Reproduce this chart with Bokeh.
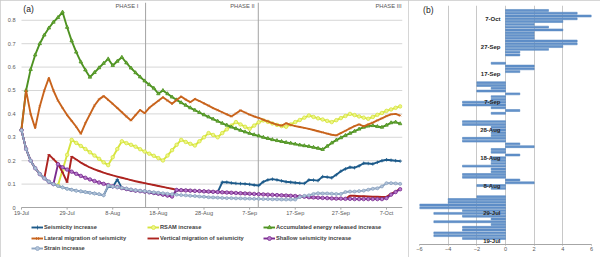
import numpy as np
from bokeh.plotting import figure
from bokeh.models import FixedTicker, Legend, LegendItem, Label
from bokeh.layouts import row
from bokeh.embed import file_html
from bokeh.resources import INLINE

FONT = "Liberation Sans"

# ---------------- data: panel (a) ----------------
days = list(range(84))  # days since 19-Jul
date_tick_days = [0, 10, 20, 30, 40, 50, 60, 70, 80]
date_tick_labels = ["19-Jul", "29-Jul", "8-Aug", "18-Aug", "28-Aug",
                    "7-Sep", "17-Sep", "27-Sep", "7-Oct"]
y_ticks = [0, 0.1, 0.2, 0.3, 0.4, 0.5, 0.6, 0.7, 0.8]
y_tick_labels = ["0", "0.1", "0.2", "0.3", "0.4", "0.5", "0.6", "0.7", "0.8"]
phase_bounds = [27.2, 51.9]
phase_names = ["PHASE I", "PHASE II", "PHASE III"]

seismicity = [0.33, 0.25, 0.2, 0.168, 0.143, 0.125, 0.11, 0.1, 0.092, 0.086,
              0.08, 0.076, 0.072, 0.069, 0.066, 0.063, 0.06, 0.057, 0.052, 0.09,
              0.088, 0.12, 0.083, 0.079, 0.075, 0.072, 0.07, 0.068, 0.065, 0.062,
              0.059, 0.055, 0.051, 0.047, 0.075, 0.074, 0.073, 0.072, 0.071, 0.07,
              0.069, 0.068, 0.067, 0.066, 0.108, 0.108, 0.105, 0.103, 0.102, 0.101,
              0.099, 0.096, 0.094, 0.11, 0.118, 0.121, 0.118, 0.114, 0.11, 0.108,
              0.106, 0.104, 0.103, 0.118, 0.117, 0.115, 0.132, 0.13, 0.127, 0.14,
              0.155, 0.165, 0.172, 0.17, 0.178, 0.189, 0.188, 0.186, 0.193, 0.2,
              0.204, 0.202, 0.2, 0.198]
rsam = [None, None, None, None, None, None, None, None, 0.095, 0.16,
        0.225, 0.289, 0.276, 0.263, 0.25, 0.236, 0.222, 0.208, 0.193, 0.181,
        0.215, 0.25, 0.283, 0.275, 0.268, 0.26, 0.249, 0.239, 0.23, 0.221,
        0.211, 0.201, 0.222, 0.245, 0.268, 0.289, 0.28, 0.272, 0.265, 0.283,
        0.3, 0.318, 0.31, 0.3, 0.318, 0.334, 0.35, 0.365, 0.355, 0.345,
        0.336, 0.35, 0.364, 0.372, 0.366, 0.359, 0.353, 0.348, 0.345, 0.355,
        0.365, 0.374, 0.384, 0.393, 0.387, 0.381, 0.376, 0.37, 0.365, 0.373,
        0.382, 0.391, 0.4, 0.395, 0.389, 0.384, 0.379, 0.387, 0.396, 0.404,
        0.413, 0.419, 0.426, 0.432]
energy = [0.335, 0.5, 0.59, 0.652, 0.7, 0.737, 0.767, 0.792, 0.812, 0.835,
          0.77, 0.712, 0.664, 0.622, 0.588, 0.557, 0.577, 0.597, 0.616, 0.635,
          0.607, 0.625, 0.642, 0.618, 0.596, 0.576, 0.558, 0.541, 0.525, 0.51,
          0.486, 0.5, 0.486, 0.472, 0.46, 0.448, 0.437, 0.426, 0.416, 0.406,
          0.396, 0.387, 0.378, 0.369, 0.36, 0.352, 0.344, 0.337, 0.33, 0.323,
          0.317, 0.311, 0.306, 0.3, 0.295, 0.29, 0.286, 0.282, 0.278, 0.275,
          0.271, 0.267, 0.264, 0.261, 0.257, 0.253, 0.248, 0.262, 0.276, 0.288,
          0.298, 0.308, 0.317, 0.326, 0.335, 0.343, 0.348, 0.35, 0.346, 0.343,
          0.352, 0.362, 0.365, 0.358]
lateral = [0.335, 0.5, 0.4, 0.339, 0.432, 0.5, 0.554, 0.5, 0.457, 0.425,
           0.395, 0.37, 0.345, 0.315, 0.36, 0.398, 0.436, 0.462, 0.476, 0.46,
           0.443, 0.425, 0.407, 0.389, 0.372, 0.395, 0.417, 0.403, 0.426, 0.441,
           0.456, 0.471, 0.457, 0.443, 0.459, 0.474, 0.461, 0.45, 0.464, 0.455,
           0.445, 0.435, 0.425, 0.416, 0.407, 0.398, 0.389, 0.402, 0.415, 0.406,
           0.397, 0.389, 0.383, 0.375, 0.368, 0.361, 0.354, 0.35, 0.36, 0.353,
           0.348, 0.344, 0.34, 0.336, 0.331, 0.326, 0.321, 0.316, 0.311, 0.308,
           0.318, 0.328, 0.338, 0.348, 0.355, 0.347, 0.355, 0.363, 0.372, 0.381,
           0.39, 0.398, 0.4, 0.393]
vertical = [0.33, 0.25, 0.2, 0.168, 0.143, 0.125, 0.226, 0.207, 0.187, 0.15,
            0.108, 0.218, 0.205, 0.192, 0.181, 0.171, 0.163, 0.156, 0.149, 0.143,
            0.137, 0.132, 0.127, 0.122, 0.117, 0.112, 0.108, 0.104, 0.1, 0.096,
            0.092, 0.088, 0.084, 0.08, 0.075, 0.074, 0.073, 0.072, 0.071, 0.07,
            0.069, 0.068, 0.067, 0.066, 0.065, 0.064, 0.063, 0.062, 0.061, 0.06,
            0.059, 0.058, 0.057, 0.056, 0.055, 0.054, 0.053, 0.052, 0.051, 0.05,
            0.049, 0.047, 0.046, 0.044, 0.043, 0.042, 0.041, 0.04, 0.039, 0.038,
            0.038, 0.037, 0.05, 0.05, 0.048, 0.048, 0.047, 0.046, 0.046, 0.045,
            0.046, 0.058, 0.068, 0.08]
shallow = [0.33, 0.25, 0.2, 0.168, 0.143, 0.125, 0.11, 0.1, 0.185, 0.172,
           0.162, 0.153, 0.144, 0.135, 0.127, 0.12, 0.113, 0.107, 0.101, 0.096,
           0.091, 0.087, 0.083, 0.079, 0.075, 0.072, 0.07, 0.068, 0.065, 0.062,
           0.059, 0.055, 0.051, 0.047, 0.075, 0.074, 0.073, 0.072, 0.071, 0.07,
           0.069, 0.068, 0.067, 0.066, 0.065, 0.064, 0.063, 0.062, 0.061, 0.06,
           0.059, 0.058, 0.057, 0.056, 0.055, 0.054, 0.053, 0.052, 0.051, 0.05,
           0.049, 0.047, 0.046, 0.044, 0.043, 0.042, 0.041, 0.04, 0.039, 0.038,
           0.038, 0.037, 0.037, 0.036, 0.036, 0.036, 0.036, 0.036, 0.036, 0.036,
           0.04, 0.055, 0.066, 0.078]
strain = [0.33, 0.25, 0.2, 0.168, 0.143, 0.125, 0.11, 0.1, 0.092, 0.086,
          0.08, 0.076, 0.072, 0.069, 0.066, 0.063, 0.06, 0.057, 0.052, 0.094,
          0.09, 0.087, 0.084, 0.081, 0.077, 0.074, 0.072, 0.07, 0.067, 0.065,
          0.063, 0.061, 0.059, 0.057, 0.055, 0.053, 0.052, 0.05, 0.049, 0.047,
          0.046, 0.044, 0.043, 0.042, 0.041, 0.04, 0.04, 0.039, 0.039, 0.038,
          0.038, 0.037, 0.037, 0.036, 0.036, 0.035, 0.035, 0.034, 0.034, 0.034,
          0.034, 0.045, 0.05, 0.052, 0.058, 0.061, 0.06, 0.06, 0.059, 0.058,
          0.058, 0.066, 0.068, 0.068, 0.07, 0.072, 0.076, 0.08, 0.082, 0.09,
          0.104, 0.104, 0.103, 0.101]

series = [
    ("Seismicity increase", seismicity, "#1d5a8a", "cross", 3.5, "#1d5a8a"),
    ("RSAM increase", rsam, "#d6e43e", "circle", 3.5, "#eef58a"),
    ("Accumulated energy released increase", energy, "#4e9222", "triangle", 3.5, "#6fae3e"),
    ("Lateral migration of seismicity", lateral, "#c8631c", "x", 2.5, "#c8631c"),
    ("Vertical migration of seismicity", vertical, "#ad2420", "dash", 3.0, "#ad2420"),
    ("Shallow seismicity increase", shallow, "#7a2c8f", "circle", 3.5, "#b77acb"),
    ("Strain increase", strain, "#8ea5c1", "circle", 3.0, "#b4c5da"),
]

# ---------------- data: panel (b) ----------------
bar_days = list(range(1, 84))
bar_values = [-3, -5, -5, -3, -3, -1, -5, -1, -3, -5,
              -3, -6, -6, -4, -4, -2, 0, 0, -1, -2,
              2, 1, -3, -3, -1, -1, -3, -1, -1, -1,
              1, -1, -1, 2, 1, -3, -3, -1, -1, -1,
              -1, -3, -3, 0, 0, -1, 1, -1, -3, -3,
              -1, -1, 1, -2, -1, -2, -2, 0, 0, 0,
              1, 2, 2, -1, 0, 0, 1, 1, 3, 4,
              5, 5, 2, 2, 2, 4, 3, 2, 4, 5,
              6, 5, 3]
b_x_ticks = [-6, -4, -2, 0, 2, 4, 6]

# ---------------- panel (a) ----------------
X_END = 83.51
Y_TOP = 0.876
pa = figure(width=408, height=257, x_range=(-4.164, X_END), y_range=(-0.2051, Y_TOP),
            output_backend="svg", toolbar_location=None,
            x_axis_location=None, y_axis_location=None,
            min_border_left=2, min_border_right=6, min_border_top=2, min_border_bottom=2)
pa.frame_align = False
pa.styles = {"outline": "1px solid #c9c9c9", "outline-offset": "-1px"}
pa.outline_line_color = None
pa.xgrid.visible = False
pa.ygrid.visible = False

n_y = len(y_ticks)
# value gridlines (the 0 line doubles as the date axis line)
pa.segment(x0=[0] * n_y, x1=[X_END] * n_y, y0=y_ticks, y1=y_ticks,
           line_color=["#a6a6a6"] + ["#d6d6d6"] * (n_y - 1), line_width=1)
for v, lab in zip(y_ticks, y_tick_labels):
    pa.add_layout(Label(x=-1.3, y=v, text=lab, text_align="right", text_baseline="middle",
                        text_font=FONT, text_font_size="5.6px", text_color="#595959"))

n_d = len(date_tick_days)
pa.segment(x0=date_tick_days, x1=date_tick_days, y0=[0] * n_d, y1=[-0.009] * n_d,
           line_color="#a6a6a6", line_width=1)
for d, lab in zip(date_tick_days, date_tick_labels):
    pa.add_layout(Label(x=d, y=-0.0256, text=lab, text_align="center", text_baseline="middle",
                        text_font=FONT, text_font_size="5.6px", text_color="#595959"))

# phase boundaries
pa.segment(x0=phase_bounds, x1=phase_bounds, y0=[0] * len(phase_bounds),
           y1=[Y_TOP] * len(phase_bounds), line_color="#a3a3a3", line_width=1)

phase_label_x = [25.6, 51.1, 83.3]
for name, lx in zip(phase_names, phase_label_x):
    pa.add_layout(Label(x=lx, y=0.862, text=name, text_align="right", text_baseline="middle",
                        text_font=FONT, text_font_size="5.8px", text_color="#595959"))
pa.add_layout(Label(x=0.4, y=0.848, text="(a)", text_align="left", text_baseline="middle",
                    text_font=FONT, text_font_size="8.5px", text_color="#222222"))

items = []
for name, vals, col, mk, sz, fill in series:
    arr = np.array([np.nan if v is None else v for v in vals], dtype=float)
    lr = pa.line(days, arr, line_color=col, line_width=1.9)
    sr = pa.scatter(days, arr, marker=mk, size=sz, line_color=col, fill_color=fill, line_width=0.8)
    items.append(LegendItem(label=name, renderers=[lr, sr]))

# three legend rows of three columns, inside the frame below the date axis
row_bottoms = [23, 12, 2]
for k, yb in enumerate(row_bottoms):
    lg = Legend(items=items[3 * k:3 * k + 3], orientation="horizontal", location=(29, yb),
                glyph_width=12, glyph_height=10, label_height=10, label_width=101,
                label_standoff=1, spacing=2, padding=0, margin=0,
                label_text_font=FONT, label_text_font_size="5.7px",
                label_text_font_style="bold", label_text_color="#404040",
                background_fill_alpha=0, border_line_color=None)
    pa.add_layout(lg)

# ---------------- panel (b) ----------------
pb = figure(width=192, height=257, x_range=(-6, 6), y_range=(-1.19, 84.78),
            output_backend="svg", toolbar_location=None, y_axis_location=None,
            min_border_left=11, min_border_right=9, min_border_top=5, min_border_bottom=13)
pb.frame_align = False
pb.styles = {"outline": "1px solid #c9c9c9", "outline-offset": "-1px"}
pb.outline_line_color = None
pb.ygrid.visible = False
pb.xaxis.ticker = FixedTicker(ticks=b_x_ticks)
pb.xgrid.ticker = FixedTicker(ticks=b_x_ticks)
pb.xgrid.grid_line_color = "#c8c8c8"
pb.xaxis.axis_line_color = "#a6a6a6"
pb.xaxis.major_tick_line_color = "#a6a6a6"
pb.xaxis.major_tick_out = 1
pb.xaxis.major_tick_in = 0
pb.xaxis.minor_tick_line_color = None
pb.xaxis.major_label_standoff = 1
pb.xaxis.major_label_text_font = FONT
pb.xaxis.major_label_text_font_size = "5.6px"
pb.xaxis.major_label_text_color = "#595959"

nz = [(d, v) for d, v in zip(bar_days, bar_values) if v != 0]
pb.hbar(y=[d for d, v in nz], left=0, right=[v for d, v in nz], height=0.7,
        fill_color="#6593cb", line_color="#4a7ebb", line_width=0.5)

for d, lab in zip(date_tick_days, date_tick_labels):
    pb.add_layout(Label(x=-0.35, y=d, text=lab, text_align="right", text_baseline="middle",
                        text_font=FONT, text_font_size="6px", text_font_style="bold",
                        text_color="#262626"))
pb.add_layout(Label(x=-5.75, y=83.3, text="(b)", text_align="left", text_baseline="middle",
                    text_font=FONT, text_font_size="8.5px", text_color="#222222"))

layout = row(pa, pb)
open("out.html", "w").write(file_html(layout, INLINE))
